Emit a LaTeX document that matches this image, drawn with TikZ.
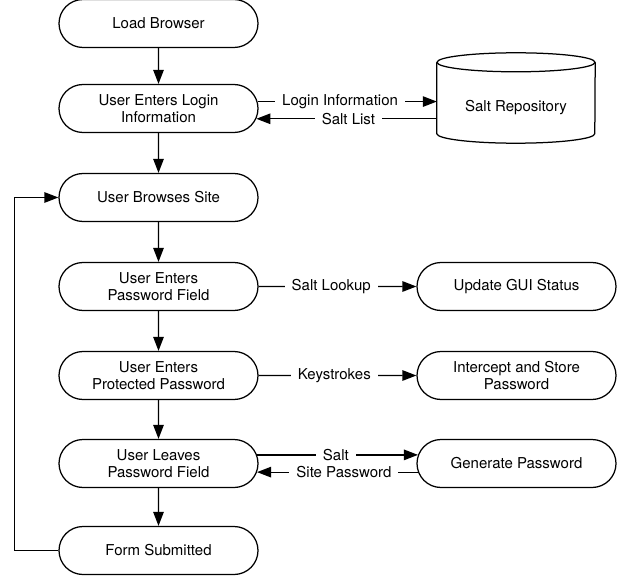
\documentclass[tikz,border=0pt]{standalone}
\usepackage{fontspec}
\setmainfont{TeX Gyre Heros}
\usetikzlibrary{shapes.misc,arrows.meta,calc}
\begin{document}
\begin{tikzpicture}[x=1pt, y=1pt]
    % Define styles
    \tikzset{
        txt/.style={
            font=\fontsize{15}{17.5}\selectfont
        },
        process/.style={
            txt,
            draw,
            line width=1.25pt,
            rounded rectangle,
            minimum width=203pt,
            minimum height=48pt,
            inner sep=2pt,
            align=center
        },
        store/.style={
            txt,
            minimum width=158pt,
            minimum height=71pt,
            inner sep=0pt
        },
        flow/.style={
            line width=1.25pt,
            -{Triangle[length=14pt, width=10.5pt]}
        },
        flowlabel/.style={
            txt,
            fill=white,
            inner xsep=7pt,
            inner ysep=1pt
        }
    }
    \useasboundingbox (0,0) rectangle (623,-577);

    % Main sequence
    \node[process] (load)    at (158.5,-23.5)  {Load Browser};
    \node[process] (login)   at (158.5,-108.5) {User Enters Login\\Information};
    \node[process] (browse)  at (158.5,-197.5) {User Browses Site};
    \node[process] (pwfield) at (158.5,-286.5) {User Enters\\Password Field};
    \node[process] (protect) at (158.5,-375.5) {User Enters\\Protected Password};
    \node[process] (leave)   at (158.5,-463.5) {User Leaves\\Password Field};
    \node[process] (form)    at (158.5,-550.5) {Form Submitted};

    % Side actions
    \node[store]   (repo)    at (516,-107.5)   {Salt Repository};
    \node[process] (gui)     at (516.5,-286.5) {Update GUI Status};
    \node[process] (store)   at (516.5,-375.5) {Intercept and Store\\Password};
    \node[process] (gen)     at (516.5,-463.5) {Generate Password};

    % Cylinder outline of the repository
    \draw[line width=1.25pt] ($(repo.north west)+(0,9.5)$) -- ($(repo.south west)+(0,9.5)$)
        arc[start angle=180, end angle=360, x radius=79, y radius=9.5]
        -- ($(repo.north east)+(0,9.5)$);
    \draw[line width=1.25pt] ($(repo.north)+(0,9.5)$) ellipse[x radius=79, y radius=9.5];

    % Vertical flow
    \foreach \a/\b in {load/login, login/browse, browse/pwfield, pwfield/protect, protect/leave, leave/form}
        \draw[flow] (\a) -- (\b);
    \draw[flow] (form.west) -- ++(-44,0) |- (browse.west);

    % Data exchanges
    \draw[flow] (login.4) -- (repo.west |- login.4)
        node[flowlabel, pos=0.46] {Login Information};
    \draw[flow] (repo.west |- login.-6) -- (login.-6)
        node[flowlabel, pos=0.49] {Salt List};
    \draw[flow] (pwfield) -- (gui)
        node[flowlabel, pos=0.46] {Salt Lookup};
    \draw[flow] (protect) -- (store)
        node[flowlabel, pos=0.48] {Keystrokes};
    \draw[flow] (leave.5) -- (gen.175)
        node[flowlabel, pos=0.49] {Salt};
    \draw[flow] (gen.185) -- (leave.-5)
        node[flowlabel, pos=0.46] {Site Password};
\end{tikzpicture}
\end{document}
